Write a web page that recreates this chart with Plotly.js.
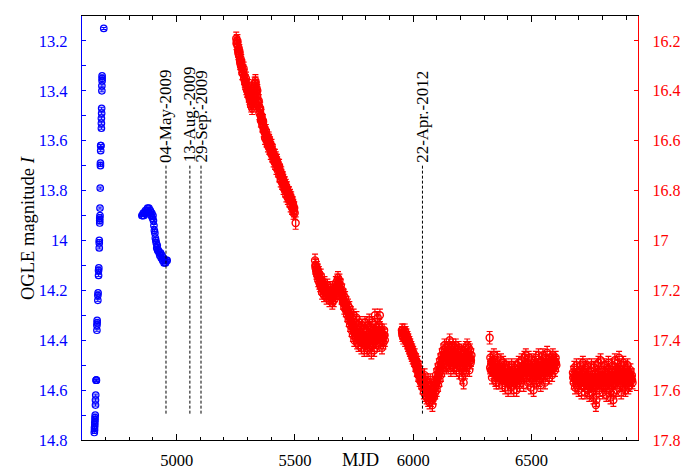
<!DOCTYPE html>
<html>
<head>
<meta charset="utf-8">
<script src="https://cdn.plot.ly/plotly-3.0.1.min.js"></script>
<style>html,body{margin:0;padding:0;background:#fff;}#chart{width:683px;height:471px;}</style>
</head>
<body>
<div id="chart"></div>
<script>
// ---- OGLE I-band (left axis, blue) ----
const ogleMjd = [4652,4653,4653,4654,4654,4655,4655,4656,4657,4657,4658,4660,4660,4661,4663,4663,4664,4664,4667,4667,4668,4670,4670,4671,4673,4673,4673,4675,4675,4675,4676,4676,4677,4678,4678,4679,4679,4680,4682,4682,4682,4683,4683,4684,4684,4685,4685,4685,4692,
  4853,4856,4859,4862,4865,4868,4871,4874,4877,4880,4883,4886,4889,4892,4895,4898,4900,4902,4904,4906,4908,4910,4912,4914,4916,4918,4920,4923,4926,4929,4932,4935,4938,4941,4944,4947,4950,4953,4957,4960];
const ogleMag = [14.77,14.76,14.75,14.74,14.73,14.72,14.71,14.70,14.66,14.64,14.62,14.56,14.56,14.56,14.36,14.34,14.32,14.33,14.24,14.22,14.21,14.14,14.12,14.11,14.03,14.01,14.00,13.93,13.92,13.91,13.90,13.87,13.79,13.70,13.69,13.64,13.62,13.62,13.55,13.53,13.51,13.49,13.47,13.40,13.38,13.36,13.35,13.34,13.15,
  13.90,13.90,13.89,13.90,13.89,13.88,13.89,13.88,13.87,13.88,13.87,13.89,13.88,13.90,13.89,13.91,13.90,13.92,13.94,13.96,13.97,13.99,14.00,14.01,14.03,14.02,14.04,14.04,14.05,14.06,14.05,14.07,14.06,14.08,14.07,14.09,14.08,14.09,14.08,14.08];

// ---- second photometry set (right axis, red), season by season ----
const redMjd1 = [5252,5254,5256,5258,5260,5262,5264,5266,5268,5270,5272,5275,5277,5280,5282,5285,5287,5290,5292,5295,5297,5300,5302,5305,5307,5310,5312,5315,5318,5320,5323,5326,5328,5330,5332,5334,5336,5338,5340,5343,5346,5349,5352,5355,5358,5361,5364,5367,5370,5373,5376,5379,5382,5385,5388,5391,5394,5397,5400,5403,5406,5409,5412,5415,5418,5421,5424,5427,5430,5433,5436,5439,5442,5445,5448,5451,5454,5457,5460,5463,5466,5469,5472,5475,5478,5481,5484,5487,5490,5493,5496,5499,5503];
const redMag1 = [16.19,16.20,16.21,16.22,16.24,16.23,16.26,16.25,16.28,16.27,16.30,16.31,16.30,16.33,16.32,16.35,16.34,16.37,16.36,16.39,16.38,16.40,16.39,16.42,16.41,16.44,16.43,16.46,16.45,16.44,16.46,16.43,16.40,16.37,16.38,16.37,16.40,16.39,16.42,16.44,16.45,16.47,16.48,16.50,16.51,16.52,16.53,16.54,16.56,16.57,16.57,16.59,16.58,16.60,16.61,16.60,16.62,16.63,16.63,16.65,16.64,16.66,16.67,16.66,16.68,16.69,16.68,16.70,16.71,16.70,16.73,16.74,16.73,16.75,16.76,16.76,16.78,16.77,16.79,16.80,16.79,16.81,16.82,16.81,16.83,16.84,16.83,16.85,16.87,16.86,16.88,16.89,16.93];

const redMjd2 = [5585,5587,5589,5591,5593,5595,5597,5599,5601,5603,5605,5607,5609,5611,5613,5615,5617,5619,5621,5623,5625,5628,5631,5634,5637,5640,5643,5646,5649,5652,5655,5658,5661,5664,5667,5670,5673,5676,5679,5682,5685,5688,5691,5694,5697,5700,5703,5706,5709,5712,5715,5718,5721,5724,5727,5730,5733,5736,5739,5742,5745,5748,5751,5754,5757,5760,5763,5766,5769,5772,5775,5778,5781,5784,5787,5790,5793,5796,5799,5802,5805,5808,5811,5814,5817,5820,5823,5826,5829,5832,5835,5838,5841,5844,5847,5850,5853,5856,5859,5862,5865,5868,5871,5874,5877,5880];
const redMag2 = [17.08,17.11,17.10,17.13,17.11,17.14,17.12,17.16,17.13,17.17,17.15,17.18,17.14,17.19,17.16,17.21,17.17,17.20,17.18,17.22,17.17,17.21,17.19,17.23,17.18,17.22,17.20,17.24,17.19,17.23,17.21,17.25,17.20,17.24,17.19,17.22,17.17,17.21,17.16,17.15,17.19,17.16,17.21,17.18,17.23,17.20,17.25,17.22,17.27,17.23,17.28,17.25,17.30,17.26,17.32,17.27,17.34,17.29,17.36,17.31,17.38,17.30,17.40,17.33,17.39,17.31,17.41,17.34,17.42,17.33,17.40,17.35,17.43,17.34,17.41,17.36,17.44,17.33,17.42,17.36,17.44,17.34,17.41,17.32,17.43,17.35,17.45,17.33,17.42,17.36,17.44,17.30,17.40,17.35,17.42,17.31,17.39,17.34,17.30,17.41,17.36,17.43,17.38,17.41,17.36,17.40];

const redMjd3 = [5952,5954,5956,5958,5960,5962,5964,5966,5968,5970,5972,5974,5976,5978,5980,5982,5984,5986,5988,5990,5992,5994,5996,5998,6000,6003,6006,6009,6012,6015,6018,6021,6024,6027,6030,6033,6036,6039,6042,6045,6048,6051,6054,6057,6060,6063,6066,6069,6072,6075,6078,6081,6084,6087,6090,6093,6096,6099,6102,6105,6108,6111,6114,6117,6120,6123,6126,6129,6132,6135,6138,6141,6144,6147,6150,6153,6156,6159,6162,6165,6168,6171,6174,6177,6180,6183,6186,6189,6192,6195,6198,6201,6204,6207,6210,6213,6216,6219,6222,6225,6228,6231,6234,6237,6240,6243,6246];
const redMag3 = [17.36,17.38,17.36,17.39,17.37,17.38,17.36,17.40,17.37,17.39,17.38,17.41,17.39,17.42,17.40,17.43,17.41,17.44,17.42,17.45,17.43,17.46,17.44,17.47,17.45,17.48,17.46,17.50,17.48,17.52,17.49,17.54,17.51,17.56,17.53,17.57,17.54,17.59,17.56,17.61,17.54,17.62,17.56,17.63,17.57,17.64,17.58,17.65,17.56,17.64,17.58,17.66,17.60,17.63,17.57,17.61,17.54,17.60,17.52,17.58,17.50,17.56,17.48,17.54,17.46,17.52,17.44,17.50,17.42,17.49,17.43,17.51,17.44,17.50,17.42,17.49,17.43,17.52,17.44,17.50,17.42,17.51,17.43,17.49,17.42,17.52,17.44,17.50,17.43,17.53,17.45,17.51,17.44,17.55,17.46,17.57,17.45,17.53,17.43,17.51,17.42,17.50,17.43,17.52,17.44,17.49,17.46];

const redMjd4 = [6323,6326,6328,6330,6333,6335,6338,6341,6344,6347,6350,6353,6356,6359,6362,6365,6368,6371,6374,6377,6380,6383,6386,6389,6392,6395,6398,6401,6404,6407,6410,6413,6416,6419,6422,6425,6428,6431,6434,6437,6440,6443,6446,6449,6452,6455,6458,6461,6464,6467,6470,6473,6476,6479,6482,6485,6488,6491,6494,6497,6500,6503,6506,6509,6512,6515,6518,6521,6524,6527,6530,6533,6536,6539,6542,6545,6548,6551,6554,6557,6560,6563,6566,6569,6572,6575,6578,6581,6584,6587,6590,6593,6596,6599,6602,6605];
const redMag4 = [17.39,17.47,17.52,17.49,17.55,17.48,17.53,17.46,17.51,17.56,17.49,17.54,17.47,17.52,17.57,17.50,17.55,17.48,17.53,17.58,17.49,17.55,17.51,17.59,17.50,17.56,17.52,17.60,17.51,17.57,17.53,17.59,17.50,17.56,17.52,17.60,17.51,17.57,17.53,17.60,17.50,17.55,17.49,17.58,17.52,17.56,17.48,17.54,17.50,17.58,17.47,17.53,17.46,17.55,17.49,17.57,17.47,17.54,17.50,17.59,17.48,17.56,17.51,17.60,17.49,17.55,17.47,17.57,17.50,17.54,17.46,17.56,17.49,17.58,17.48,17.53,17.46,17.55,17.50,17.57,17.47,17.52,17.45,17.54,17.49,17.55,17.47,17.52,17.48,17.54,17.46,17.51,17.48,17.52,17.47,17.50];

const redMjd5 = [6675,6678,6681,6684,6687,6690,6693,6696,6699,6702,6705,6708,6711,6714,6717,6720,6723,6726,6729,6732,6735,6738,6741,6744,6747,6750,6753,6756,6759,6762,6765,6768,6771,6772,6774,6777,6780,6783,6786,6789,6792,6795,6798,6801,6804,6807,6810,6813,6816,6819,6822,6825,6828,6831,6834,6837,6840,6843,6846,6846,6849,6852,6855,6858,6861,6864,6867,6870,6873,6876,6879,6882,6885,6888,6891,6894,6897,6900,6903,6906,6909,6912,6915,6918,6921,6924,6927];
const redMag5 = [17.53,17.57,17.51,17.59,17.54,17.50,17.58,17.53,17.60,17.52,17.57,17.50,17.61,17.54,17.49,17.58,17.53,17.61,17.51,17.57,17.50,17.60,17.54,17.62,17.52,17.58,17.50,17.61,17.55,17.63,17.51,17.59,17.53,17.66,17.64,17.50,17.57,17.49,17.60,17.54,17.48,17.58,17.52,17.61,17.55,17.50,17.59,17.53,17.62,17.51,17.57,17.49,17.60,17.54,17.63,17.52,17.58,17.50,17.61,17.64,17.55,17.48,17.57,17.52,17.60,17.49,17.56,17.47,17.58,17.53,17.61,17.50,17.56,17.49,17.59,17.54,17.60,17.51,17.57,17.50,17.59,17.53,17.58,17.52,17.56,17.54,17.57];

// additional nights read from the dense parts of each season: [MJD, mag]
const redExtra1 = [[5253,16.21],[5257,16.20],[5261,16.25],[5265,16.24],[5269,16.29],[5273,16.28],[5278,16.33],[5283,16.31],[5288,16.36],[5293,16.35],[5298,16.40],[5303,16.38],[5308,16.43],[5313,16.42],[5319,16.47],[5324,16.44],[5329,16.39],[5333,16.36],[5337,16.41],[5341,16.40],[5344,16.46],[5347,16.44],[5350,16.49],[5353,16.47],[5356,16.52],[5359,16.50],[5362,16.54],[5365,16.52],[5368,16.56],[5371,16.55],[5374,16.59],[5377,16.56],[5380,16.60],[5383,16.59],[5386,16.62],[5389,16.59],[5392,16.63],[5395,16.61],[5398,16.65],[5401,16.62],[5404,16.66],[5407,16.65],[5410,16.68],[5413,16.66],[5416,16.69],[5419,16.67],[5422,16.71],[5425,16.69],[5428,16.72],[5431,16.71],[5434,16.74],[5437,16.72],[5440,16.76],[5443,16.74],[5446,16.77],[5449,16.75],[5452,16.79],[5455,16.77],[5458,16.80],[5461,16.78],[5464,16.82],[5467,16.80],[5470,16.83],[5473,16.81],[5476,16.84],[5479,16.82],[5482,16.86],[5485,16.84],[5488,16.87],[5491,16.85],[5494,16.89],[5497,16.87]];
const redExtra2 = [[5586,17.10],[5590,17.12],[5594,17.13],[5598,17.14],[5602,17.15],[5606,17.16],[5610,17.17],[5614,17.18],[5618,17.19],[5622,17.20],[5626,17.20],[5630,17.21],[5634,17.20],[5638,17.21],[5642,17.21],[5646,17.22],[5650,17.21],[5654,17.22],[5658,17.22],[5662,17.23],[5666,17.21],[5670,17.20],[5674,17.19],[5678,17.18],[5681,17.17],[5684,17.17],[5687,17.18],[5690,17.19],[5693,17.20],[5696,17.21],[5699,17.22],[5702,17.23],[5705,17.24],[5708,17.25],[5711,17.25],[5714,17.26],[5717,17.27],[5720,17.28],[5723,17.28],[5726,17.29],[5729,17.30],[5732,17.31],[5735,17.32],[5738,17.33],[5741,17.34],[5744,17.35],[5747,17.35],[5750,17.36],[5753,17.37],[5756,17.36],[5759,17.37],[5762,17.38],[5765,17.37],[5768,17.39],[5771,17.38],[5774,17.37],[5777,17.39],[5780,17.38],[5783,17.40],[5786,17.38],[5789,17.39],[5792,17.40],[5795,17.38],[5798,17.39],[5801,17.40],[5804,17.39],[5807,17.41],[5810,17.38],[5813,17.37],[5816,17.39],[5819,17.40],[5822,17.39],[5825,17.38],[5828,17.40],[5831,17.39],[5834,17.40],[5837,17.37],[5840,17.36],[5843,17.38],[5846,17.39],[5849,17.37],[5852,17.36],[5855,17.37],[5858,17.36],[5861,17.37],[5864,17.39],[5867,17.38],[5870,17.40],[5873,17.39],[5876,17.38],[5879,17.38]];
const redExtra3 = [[5953,17.37],[5957,17.37],[5961,17.38],[5965,17.38],[5969,17.39],[5973,17.40],[5977,17.40],[5981,17.42],[5985,17.42],[5989,17.44],[5993,17.44],[5997,17.46],[6001,17.47],[6004,17.47],[6007,17.48],[6010,17.49],[6013,17.50],[6016,17.50],[6019,17.52],[6022,17.52],[6025,17.54],[6028,17.54],[6031,17.55],[6034,17.56],[6037,17.57],[6040,17.57],[6043,17.58],[6046,17.58],[6049,17.59],[6052,17.59],[6055,17.60],[6058,17.60],[6061,17.61],[6064,17.61],[6067,17.62],[6070,17.61],[6073,17.61],[6076,17.61],[6079,17.62],[6082,17.63],[6085,17.62],[6088,17.60],[6091,17.59],[6094,17.58],[6097,17.57],[6100,17.56],[6103,17.55],[6106,17.54],[6109,17.53],[6112,17.52],[6115,17.51],[6118,17.50],[6121,17.49],[6124,17.48],[6127,17.47],[6130,17.46],[6133,17.46],[6136,17.46],[6139,17.47],[6142,17.47],[6145,17.47],[6148,17.46],[6151,17.46],[6154,17.40],[6157,17.47],[6160,17.48],[6163,17.47],[6166,17.46],[6169,17.47],[6172,17.47],[6175,17.46],[6178,17.46],[6181,17.47],[6184,17.48],[6187,17.47],[6190,17.46],[6193,17.48],[6196,17.49],[6199,17.48],[6202,17.47],[6205,17.49],[6208,17.50],[6211,17.51],[6214,17.51],[6217,17.49],[6220,17.48],[6223,17.47],[6226,17.46],[6229,17.46],[6232,17.47],[6235,17.47],[6238,17.48],[6241,17.47],[6244,17.48]];
const redExtra4 = [[6325,17.51],[6329,17.50],[6332,17.52],[6336,17.51],[6339,17.50],[6342,17.53],[6345,17.52],[6348,17.53],[6351,17.57],[6354,17.52],[6357,17.54],[6360,17.53],[6363,17.52],[6366,17.54],[6369,17.52],[6372,17.55],[6375,17.54],[6378,17.53],[6381,17.55],[6384,17.54],[6387,17.56],[6390,17.55],[6393,17.54],[6396,17.56],[6399,17.55],[6402,17.55],[6405,17.54],[6408,17.56],[6411,17.55],[6414,17.56],[6417,17.54],[6420,17.55],[6423,17.56],[6426,17.55],[6429,17.54],[6432,17.56],[6435,17.55],[6438,17.56],[6441,17.54],[6444,17.53],[6447,17.55],[6450,17.54],[6453,17.53],[6456,17.52],[6459,17.53],[6462,17.52],[6465,17.54],[6468,17.52],[6471,17.51],[6474,17.50],[6477,17.51],[6480,17.52],[6483,17.53],[6486,17.51],[6489,17.52],[6492,17.53],[6495,17.54],[6498,17.53],[6501,17.52],[6504,17.53],[6507,17.55],[6510,17.54],[6513,17.53],[6516,17.52],[6519,17.53],[6522,17.52],[6525,17.53],[6528,17.51],[6531,17.52],[6534,17.53],[6537,17.52],[6540,17.53],[6543,17.51],[6546,17.50],[6549,17.51],[6552,17.52],[6555,17.53],[6558,17.52],[6561,17.50],[6564,17.49],[6567,17.50],[6570,17.51],[6573,17.52],[6576,17.51],[6579,17.50],[6582,17.50],[6585,17.51],[6588,17.50],[6591,17.49],[6594,17.50],[6597,17.50],[6600,17.49],[6603,17.49]];
const redExtra5 = [[6676,17.55],[6679,17.54],[6682,17.55],[6685,17.56],[6688,17.55],[6691,17.54],[6694,17.56],[6697,17.56],[6700,17.55],[6703,17.56],[6706,17.54],[6709,17.55],[6712,17.57],[6715,17.56],[6718,17.55],[6721,17.56],[6724,17.57],[6727,17.56],[6730,17.55],[6733,17.54],[6736,17.56],[6739,17.57],[6742,17.58],[6745,17.57],[6748,17.56],[6751,17.55],[6754,17.56],[6757,17.58],[6760,17.57],[6763,17.56],[6766,17.55],[6769,17.57],[6772,17.58],[6775,17.57],[6778,17.55],[6781,17.54],[6784,17.55],[6787,17.57],[6790,17.56],[6793,17.54],[6796,17.55],[6799,17.56],[6802,17.58],[6805,17.57],[6808,17.55],[6811,17.56],[6814,17.57],[6817,17.56],[6820,17.55],[6823,17.54],[6826,17.55],[6829,17.57],[6832,17.58],[6835,17.56],[6838,17.55],[6841,17.54],[6844,17.56],[6847,17.57],[6850,17.55],[6853,17.53],[6856,17.54],[6859,17.56],[6862,17.55],[6865,17.53],[6868,17.52],[6871,17.53],[6874,17.55],[6877,17.56],[6880,17.55],[6883,17.54],[6886,17.53],[6889,17.55],[6892,17.56],[6895,17.57],[6898,17.55],[6901,17.54],[6904,17.53],[6907,17.55],[6910,17.56],[6913,17.55],[6916,17.54],[6919,17.55],[6922,17.55],[6925,17.56]];

// ---- marked dates ----
const eventMjd = [4955, 5056, 5103, 6039];
const eventLabels = ['04-May-2009', '13-Aug.-2009', '29-Sep.-2009', '22-Apr.-2012'];
const eventLineTop = 13.70;
const eventLineBottom = 14.70;

const SERIF = 'Liberation Serif';
const BLUE = '#0000ff';
const RED = '#ff0000';

const extras = [].concat(redExtra1, redExtra2, redExtra3, redExtra4, redExtra5);
const redMjd = [].concat(redMjd1, redMjd2, redMjd3, redMjd4, redMjd5, extras.map(p => p[0]));
const redMag = [].concat(redMag1, redMag2, redMag3, redMag4, redMag5, extras.map(p => p[1]));

const traces = [
  {
    x: ogleMjd, y: ogleMag, type: 'scatter', mode: 'markers', yaxis: 'y',
    marker: {symbol: 'circle-open', size: 6.5, color: BLUE, line: {color: BLUE, width: 1.2}},
    error_y: {type: 'constant', value: 0.004, color: BLUE, thickness: 1, width: 2.5},
    showlegend: false, hoverinfo: 'x+y'
  },
  {
    x: redMjd, y: redMag, type: 'scatter', mode: 'markers', yaxis: 'y2',
    marker: {symbol: 'circle-open', size: 7, color: RED, line: {color: RED, width: 1.4}},
    error_y: {type: 'constant', value: 0.025, color: RED, thickness: 1.2, width: 3},
    showlegend: false, hoverinfo: 'x+y'
  }
];

const shapes = eventMjd.map(m => ({
  type: 'line', xref: 'x', yref: 'y', x0: m, x1: m, y0: eventLineTop, y1: eventLineBottom,
  line: {color: '#000', width: 1, dash: '3px,2px'}
}));

const annotations = eventMjd.map((m, i) => ({
  x: m, y: eventLineTop - 0.005, xref: 'x', yref: 'y', text: eventLabels[i],
  showarrow: false, textangle: -90, xanchor: 'center', yanchor: 'bottom',
  font: {family: SERIF, size: 17, color: '#000'}
}));
// x-axis title, placed just below the tick labels near the bottom edge
annotations.push({
  x: 0.5, xref: 'paper', y: -0.047, yref: 'paper', text: 'MJD', showarrow: false,
  xanchor: 'center', yanchor: 'middle', font: {family: SERIF, size: 18.5, color: '#000'}
});
// left y-axis title
annotations.push({
  x: 0, xref: 'paper', xshift: -54, y: 0.5, yref: 'paper', text: 'OGLE magnitude <i>I</i>',
  showarrow: false, textangle: -90, xanchor: 'center', yanchor: 'middle',
  font: {family: SERIF, size: 18.5, color: '#000'}
});

const layout = {
  width: 683, height: 471,
  margin: {l: 82, r: 45, t: 16, b: 31, pad: 0},
  paper_bgcolor: '#fff', plot_bgcolor: '#fff',
  font: {family: SERIF, size: 16, color: '#000'},
  showlegend: false,
  xaxis: {
    range: [4600, 6950], showgrid: false, zeroline: false,
    showline: true, linecolor: '#000', linewidth: 1, mirror: 'ticks',
    ticks: 'inside', ticklen: 6, tickwidth: 1, tickcolor: '#000',
    dtick: 500, tick0: 5000,
    minor: {dtick: 100, tick0: 5000, ticks: 'inside', ticklen: 3.5, tickcolor: '#000', tickwidth: 1, showgrid: false},
    tickfont: {family: SERIF, size: 16.5, color: '#000'},
    ticklabelstandoff: 5
  },
  yaxis: {
    range: [14.8, 13.1], showgrid: false, zeroline: false,
    showline: true, linecolor: BLUE, linewidth: 1.2,
    ticks: 'inside', ticklen: 4, tickwidth: 1, tickcolor: BLUE,
    dtick: 0.2, tick0: 13.2,
    minor: {dtick: 0.1, ticks: 'inside', ticklen: 4, tickcolor: BLUE, tickwidth: 1, showgrid: false},
    tickfont: {family: SERIF, size: 16.5, color: BLUE},
    ticklabelstandoff: 10
  },
  yaxis2: {
    range: [17.8, 16.1], overlaying: 'y', side: 'right', anchor: 'x',
    showgrid: false, zeroline: false,
    showline: true, linecolor: RED, linewidth: 1.2,
    ticks: 'inside', ticklen: 4, tickwidth: 1, tickcolor: RED,
    dtick: 0.2, tick0: 16.2,
    tickfont: {family: SERIF, size: 16, color: RED},
    ticklabelstandoff: 10
  },
  shapes: shapes,
  annotations: annotations
};

Plotly.newPlot('chart', traces, layout, {displayModeBar: false, staticPlot: true});
</script>
</body>
</html>
